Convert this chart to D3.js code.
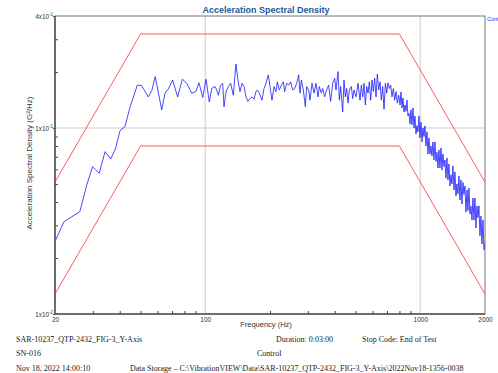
<!DOCTYPE html>
<html><head><meta charset="utf-8">
<script src="https://cdn.jsdelivr.net/npm/d3@7/dist/d3.min.js"></script>
<style>body{margin:0;background:#fff;}svg{display:block;}</style>
</head><body><svg id="c" width="498" height="373"></svg>
<script>
// ---- data ----
const lowFreq = [20, 22, 26.1, 28.1, 29.9, 32.1, 34.2, 36.3, 38.2, 40.1, 42.3, 44.7, 48.3, 50.6, 54.3, 56.4, 58.5, 62.7, 65, 67.3, 70.5, 74.4, 78.2, 82, 86.5, 90.3, 93.5, 97.3, 100.8, 104.4];
const lowVal = [0.0245, 0.0313, 0.0355, 0.0494, 0.0619, 0.0571, 0.0746, 0.0681, 0.0771, 0.0967, 0.1016, 0.130, 0.170, 0.169, 0.147, 0.159, 0.189, 0.125, 0.154, 0.162, 0.181, 0.147, 0.183, 0.174, 0.154, 0.157, 0.175, 0.146, 0.183, 0.138];

const midFreq = [107.1, 111.0, 113.0, 115.0, 117.9, 120.5, 122.2, 124.9, 128.0, 131.2, 135.0, 138.9, 141.9, 145.0, 148.2, 151.4, 154.7, 158.0, 161.4, 164.9, 168.5, 172.2, 174.6, 178.4, 183.6, 187.6, 191.6, 196.4, 200.0, 204.3, 208.8, 213.3, 216.4, 221.0, 225.8, 230.7, 234.0, 239.1, 244.3, 249.6, 255.0, 260.5, 266.1, 271.9, 275.8, 279.8, 285.8, 292.0, 296.2, 302.6, 307.0, 313.6, 320.4, 327.4, 334.4, 339.2, 346.5, 351.5, 359.1, 366.9, 374.8, 383.0, 391.3, 399.8, 405.5, 414.3, 420.3, 426.3, 435.6, 441.8, 448.2, 454.6, 461.2, 467.8, 477.9, 484.8, 491.8, 502.4, 513.3, 524.4];
const midVal = [0.163, 0.167, 0.160, 0.150, 0.170, 0.174, 0.130, 0.157, 0.167, 0.174, 0.150, 0.221, 0.181, 0.157, 0.174, 0.167, 0.147, 0.139, 0.144, 0.147, 0.143, 0.157, 0.160, 0.154, 0.141, 0.163, 0.174, 0.193, 0.167, 0.141, 0.167, 0.157, 0.177, 0.160, 0.170, 0.177, 0.157, 0.174, 0.170, 0.177, 0.160, 0.163, 0.174, 0.193, 0.154, 0.181, 0.160, 0.130, 0.167, 0.160, 0.141, 0.174, 0.154, 0.174, 0.147, 0.167, 0.154, 0.163, 0.147, 0.160, 0.170, 0.139, 0.174, 0.185, 0.160, 0.201, 0.141, 0.167, 0.122, 0.181, 0.147, 0.163, 0.136, 0.160, 0.167, 0.144, 0.160, 0.147, 0.174, 0.141];

const upperFreq = [532.0, 539.7, 547.4, 555.3, 563.3, 571.4, 579.6, 588.0, 596.4, 605.0, 613.7, 622.6, 631.5, 640.6, 649.8, 659.1, 668.6, 678.2, 688.0, 697.9, 707.8, 718.0, 728.3, 738.7, 749.5, 760.3, 771.3, 782.3, 793.6, 805.0];
const upperVal = [0.170, 0.147, 0.174, 0.133, 0.167, 0.154, 0.177, 0.141, 0.181, 0.157, 0.185, 0.147, 0.195, 0.160, 0.177, 0.141, 0.167, 0.126, 0.174, 0.154, 0.175, 0.163, 0.170, 0.147, 0.163, 0.141, 0.157, 0.136, 0.150, 0.133];

const rollFreq = [813.3, 822.0, 830.9, 839.8, 848.8, 858.0, 867.2, 876.5, 886.0, 895.5,
  905.1, 914.9, 924.7, 934.7, 944.7, 954.9, 965.2, 975.6, 986.1, 996.7,
  1007.4, 1018.3, 1029.2, 1040.3, 1051.5, 1062.8, 1074.2, 1085.8, 1097.5, 1109.3,
  1121.3, 1133.3, 1145.5, 1157.9, 1170.3, 1182.9, 1195.7, 1208.5, 1221.5, 1234.7,
  1248.0, 1261.4, 1275.0, 1288.7, 1302.6, 1316.6, 1330.8, 1345.1, 1359.6, 1374.2,
  1389.1, 1404.1, 1419.2, 1434.5, 1449.9, 1465.5, 1481.3, 1497.2, 1513.3, 1529.6,
  1546.1, 1562.7, 1579.5, 1596.5, 1613.7, 1631.1, 1648.7, 1666.4, 1684.3, 1702.5,
  1720.9, 1739.4, 1758.2, 1777.1, 1796.2, 1815.5, 1835.1, 1854.8, 1874.8, 1895.0,
  1915.4, 1936.0, 1956.8, 1977.9, 2000];
const rollVal = [0.1562, 0.1281, 0.1450, 0.1219, 0.1330, 0.1230, 0.1414, 0.1160, 0.1200, 0.1051,
  0.1250, 0.1040, 0.1281, 0.1000, 0.1160, 0.0928, 0.1030, 0.0952, 0.1160, 0.0884,
  0.1077, 0.0841, 0.1000, 0.0900, 0.1025, 0.0800, 0.0952, 0.0725, 0.0884, 0.0725,
  0.0800, 0.0707, 0.0841, 0.0673, 0.0841, 0.0660, 0.0740, 0.0609, 0.0762, 0.0609,
  0.0781, 0.0594, 0.0725, 0.0620, 0.0673, 0.0538, 0.0690, 0.0525, 0.0640, 0.0488,
  0.0560, 0.0500, 0.0625, 0.0464, 0.0580, 0.0431, 0.0500, 0.0442, 0.0552, 0.0410,
  0.0525, 0.0390, 0.0510, 0.0440, 0.0488, 0.0353, 0.0464, 0.0360, 0.0476, 0.0345,
  0.0380, 0.0320, 0.0420, 0.0320, 0.0420, 0.0290, 0.0381, 0.0330, 0.0381, 0.0263,
  0.0336, 0.0238, 0.0320, 0.0221, 0.0244];

const profileFreq = [20, 50, 800, 2000];
const upperLimit = [0.0512, 0.32, 0.32, 0.0512];
const lowerLimit = [0.0128, 0.08, 0.08, 0.0128];

const xTickVals = [20, 100, 1000, 2000];
const xTickLabels = ["20", "100", "1000", "2000"];
const xMinor = [30, 40, 50, 60, 70, 80, 90, 200, 300, 400, 500, 600, 700, 800, 900];
const yTickVals = [0.4, 0.1, 0.01];
const yTickMant = ["4x10", "1x10", "1x10"];
const yTickExp = ["-1", "-1", "-2"];
const yMinor = [0.02, 0.03, 0.04, 0.05, 0.06, 0.07, 0.08, 0.09, 0.2, 0.3];
const gridX = [100, 1000];
const gridY = [0.1];

const title = "Acceleration Spectral Density";
const xTitle = "Frequency (Hz)";
const yTitle = "Acceleration Spectral Density (G²/Hz)";
const legendText = "Cont";
const footer = [
  {t: "SAR-10237_QTP-2432_FIG-3_Y-Axis", x: 16, y: 342},
  {t: "Duration: 0:03:00", x: 276, y: 342},
  {t: "Stop Code: End of Test", x: 362, y: 342},
  {t: "SN-016", x: 16, y: 356},
  {t: "Control", x: 257, y: 356},
  {t: "Nov 18, 2022 14:00:10", x: 16, y: 371},
  {t: "Data Storage \u2013 C:\\VibrationVIEW\\Data\\SAR-10237_QTP-2432_FIG-3_Y-Axis\\2022Nov18-1356-0038", x: 130, y: 371}
];

// ---- drawing ----
const L = 55, R = 485, T = 16, B = 314;
const svg = d3.select("#c");
const x = d3.scaleLog().domain([20, 2000]).range([L, R]);
const y = d3.scaleLog().domain([0.01, 0.4]).range([B, T]);
const SANS = "'Liberation Sans', Arial, sans-serif";
const SERIF = "'Liberation Serif', 'Times New Roman', serif";

svg.append("rect").attr("width", 498).attr("height", 373).attr("fill", "#fff");

// grid
svg.append("g").selectAll("line").data(gridX).join("line")
  .attr("x1", d => x(d)).attr("x2", d => x(d)).attr("y1", T).attr("y2", B)
  .attr("stroke", "#dddddd").attr("stroke-width", 1.5);
svg.append("g").selectAll("line").data(gridY).join("line")
  .attr("x1", L).attr("x2", R).attr("y1", d => y(d)).attr("y2", d => y(d))
  .attr("stroke", "#dddddd").attr("stroke-width", 1.5);

// clip
svg.append("clipPath").attr("id", "clip").append("rect")
  .attr("x", L).attr("y", T).attr("width", R - L).attr("height", B - T);

const line = d3.line().x(d => x(d[0])).y(d => y(d[1]));
const zip = (f, v) => f.map((d, i) => [d, v[i]]);

const plot = svg.append("g").attr("clip-path", "url(#clip)");
[upperLimit, lowerLimit].forEach(arr => {
  plot.append("path").datum(zip(profileFreq, arr)).attr("d", line)
    .attr("fill", "none").attr("stroke", "#ff5a5a").attr("stroke-width", 1);
});
const control = zip(lowFreq, lowVal).concat(zip(midFreq, midVal), zip(upperFreq, upperVal), zip(rollFreq, rollVal));
plot.append("path").datum(control).attr("d", line)
  .attr("fill", "none").attr("stroke", "#1a1aff").attr("stroke-width", 0.8).attr("stroke-linejoin", "round");

// frame
svg.append("rect").attr("x", L).attr("y", T).attr("width", R - L).attr("height", B - T)
  .attr("fill", "none").attr("stroke", "#777").attr("stroke-width", 1);
svg.append("line").attr("x1", L).attr("x2", L).attr("y1", T).attr("y2", B).attr("stroke", "#555").attr("stroke-width", 1.5);
svg.append("line").attr("x1", L).attr("x2", R).attr("y1", B).attr("y2", B).attr("stroke", "#555").attr("stroke-width", 1.5);

// minor ticks via axes (pointing inward)
const xMin = svg.append("g").attr("transform", `translate(0,${B})`)
  .call(d3.axisTop(x).tickValues(xMinor).tickSize(3).tickFormat(""));
xMin.select(".domain").remove();
xMin.selectAll("line").attr("stroke", "#444");
const yMin = svg.append("g").attr("transform", `translate(${L},0)`)
  .call(d3.axisRight(y).tickValues(yMinor).tickSize(3).tickFormat(""));
yMin.select(".domain").remove();
yMin.selectAll("line").attr("stroke", "#444");

// x tick labels
const xAx = svg.append("g").attr("transform", `translate(0,${B})`)
  .call(d3.axisBottom(x).tickValues(xTickVals).tickSize(0).tickPadding(3).tickFormat((d, i) => xTickLabels[i]));
xAx.select(".domain").remove();
xAx.selectAll("text").attr("font-family", SANS).attr("font-size", 6.5).attr("fill", "#333");

// y tick labels
const yAx = svg.append("g").attr("transform", `translate(${L},0)`)
  .call(d3.axisLeft(y).tickValues(yTickVals).tickSize(2).tickPadding(1).tickFormat(""));
yAx.select(".domain").remove();
yAx.selectAll("line").attr("stroke", "#444");
yAx.selectAll(".tick").each(function(d, i) {
  const t = d3.select(this).append("text").attr("x", -2).attr("y", 2.2)
    .attr("text-anchor", "end").attr("font-family", SANS).attr("font-size", 6.3).attr("fill", "#333");
  t.append("tspan").text(yTickMant[i]);
  t.append("tspan").attr("dy", -2.5).attr("font-size", 4.5).text(yTickExp[i]);
});

// titles
svg.append("text").attr("x", 266).attr("y", 13).attr("text-anchor", "middle")
  .attr("font-family", SANS).attr("font-weight", "bold").attr("font-size", 9).attr("fill", "#1e5a92").text(title);
svg.append("text").attr("x", 266).attr("y", 327).attr("text-anchor", "middle")
  .attr("font-family", SANS).attr("font-size", 7.5).attr("fill", "#333").text(xTitle);
svg.append("text").attr("transform", "translate(32,163) rotate(-90)").attr("text-anchor", "middle")
  .attr("font-family", SANS).attr("font-size", 8).attr("fill", "#333").text(yTitle);
svg.append("text").attr("x", 487).attr("y", 21).attr("font-family", SANS).attr("font-size", 5.5)
  .attr("fill", "#2030ff").text(legendText);

// footer
svg.append("g").selectAll("text").data(footer).join("text")
  .attr("x", d => d.x).attr("y", d => d.y).attr("font-family", SERIF).attr("font-size", 8)
  .attr("fill", "#222").text(d => d.t);
</script></body></html>
